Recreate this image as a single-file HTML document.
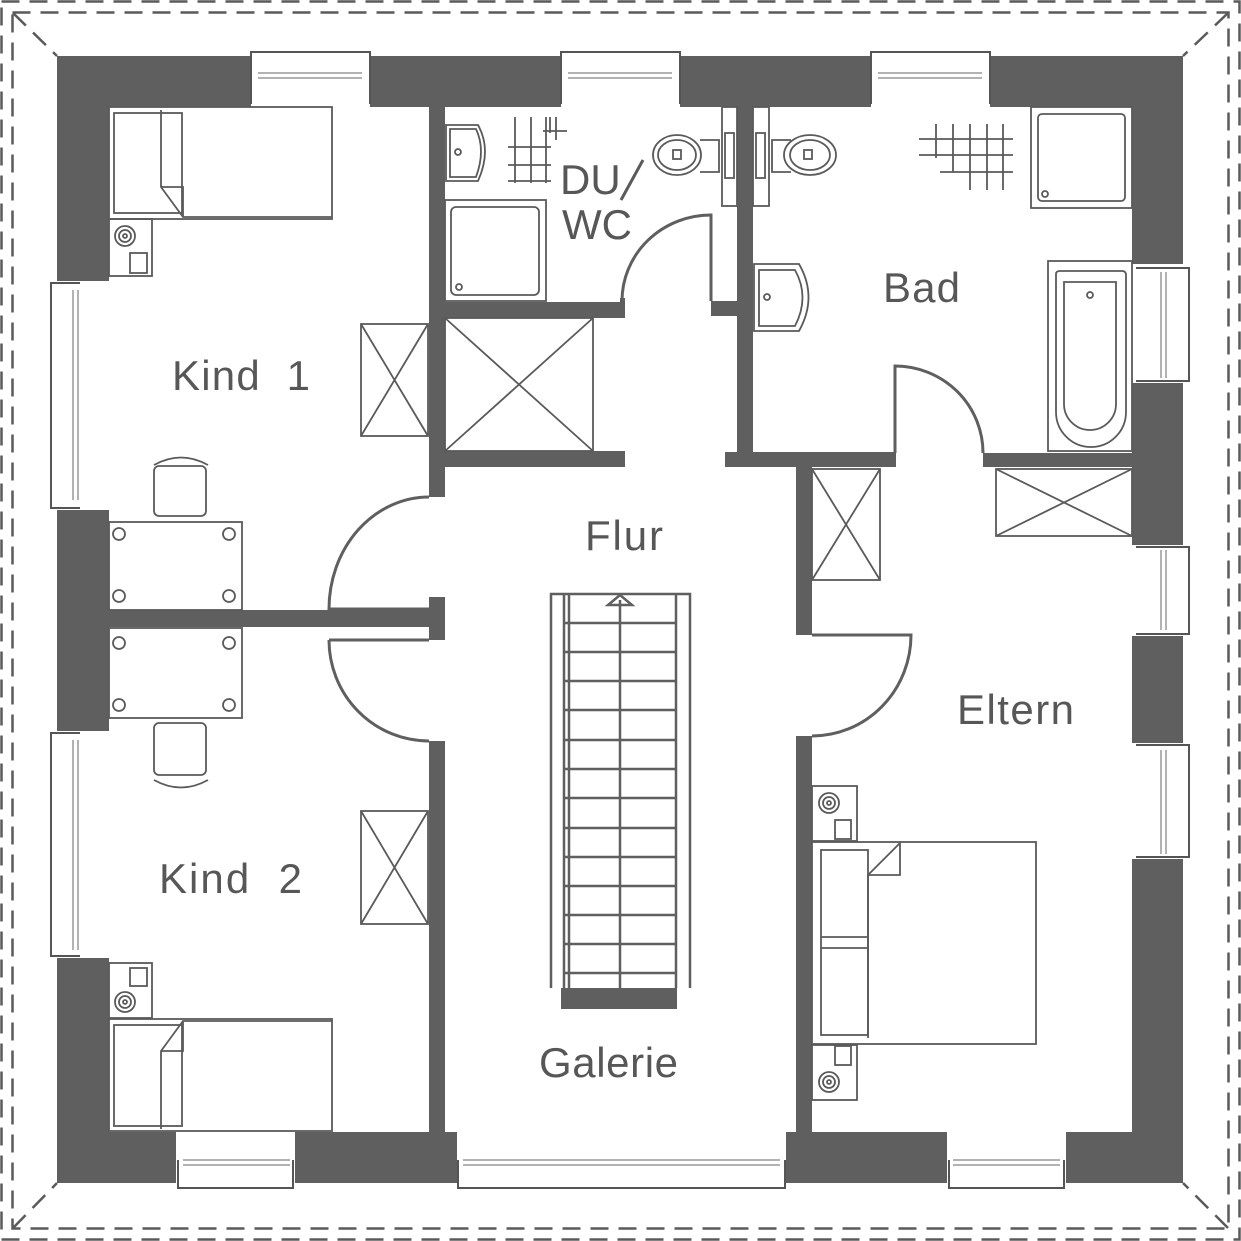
<!DOCTYPE html>
<html><head><meta charset="utf-8"><style>
html,body{margin:0;padding:0;background:#fff}
svg{display:block}
text{font-family:"Liberation Sans",sans-serif;fill:#575757;font-size:42px}
</style></head><body>
<svg width="1241" height="1241" viewBox="0 0 1241 1241" xmlns="http://www.w3.org/2000/svg">
<g fill="none" stroke="#5a5a5a" stroke-width="2.5" stroke-dasharray="18,10">
<rect x="1.5" y="1.5" width="1238" height="1238"/>
<rect x="12.5" y="12.5" width="1216" height="1216"/>
<line x1="13" y1="13" x2="57" y2="56"/>
<line x1="1228" y1="13" x2="1183" y2="56"/>
<line x1="13" y1="1228" x2="57" y2="1183"/>
<line x1="1228" y1="1228" x2="1183" y2="1183"/>
</g>
<path fill="#5f5f5f" fill-rule="evenodd" d="M57 56H1183V1183H57Z M109 107V1132H1132V107Z"/>
<g fill="#5f5f5f">
<rect x="429" y="107" width="16" height="390"/>
<rect x="109" y="610" width="320" height="17"/>
<rect x="429" y="597" width="16" height="43"/>
<rect x="429" y="741" width="16" height="391"/>
<rect x="445" y="302" width="180" height="16"/>
<rect x="620" y="298" width="5" height="20"/>
<rect x="711" y="301" width="26" height="15"/>
<rect x="737" y="107" width="16" height="360"/>
<rect x="445" y="451" width="180" height="16"/>
<rect x="725" y="452" width="171" height="15"/>
<rect x="983" y="453" width="149" height="14"/>
<rect x="796" y="467" width="16" height="168"/>
<rect x="796" y="736" width="16" height="396"/>
<rect x="445" y="1132" width="12" height="51"/>
<rect x="786" y="1132" width="26" height="51"/>
<rect x="561" y="988" width="116" height="21"/>
</g>
<g fill="#fff" stroke="#555" stroke-width="2">
<rect x="251" y="51" width="119" height="56" stroke="none"/>
<rect x="561" y="51" width="119" height="56" stroke="none"/>
<rect x="871" y="51" width="119" height="56" stroke="none"/>
<path d="M251 104V52H370V104 M561 104V52H680V104 M871 104V52H990V104"/>
<rect x="51" y="281" width="58" height="229" stroke="none"/>
<rect x="51" y="731" width="58" height="227" stroke="none"/>
<path d="M80 283H51V508H80 M80 733H51V956H80"/>
<rect x="1132" y="264" width="57" height="119" stroke="none"/>
<rect x="1132" y="545" width="57" height="91" stroke="none"/>
<rect x="1132" y="743" width="57" height="116" stroke="none"/>
<path d="M1136 268H1189V381H1136 M1136 547H1189V634H1136 M1136 745H1189V857H1136"/>
<rect x="176" y="1132" width="119" height="56" stroke="none"/>
<rect x="457" y="1132" width="329" height="56" stroke="none"/>
<rect x="947" y="1132" width="119" height="56" stroke="none"/>
<path d="M178 1160V1188H293V1160 M458 1160V1188H785V1160 M949 1160V1188H1064V1160"/>
</g>
<g stroke="#666" stroke-width="1" fill="none">
<path d="M258 73H362 M258 78H362 M568 73H672 M568 78H672 M878 73H982 M878 78H982"/>
<path d="M73 290V500 M78 290V500 M73 740V950 M78 740V950"/>
<path d="M1161 272V378 M1166 272V378 M1161 550V630 M1166 550V630 M1161 750V854 M1166 750V854"/>
<path d="M183 1160H290 M183 1165H290 M463 1160H780 M463 1165H780 M953 1160H1060 M953 1165H1060"/>
</g>
<g fill="none" stroke="#5f5f5f" stroke-width="3">
<path d="M429 497A100 112 0 0 0 329 609H429"/>
<path d="M329 640H429M329 640A100 101 0 0 0 429 741"/>
<path d="M711 301V215A89 86 0 0 0 622 301"/>
<path d="M895 453V366A88 87 0 0 1 983 453"/>
<path d="M812 635H911A99 101 0 0 1 812 736"/>
</g>
<g fill="none" stroke="#5a5a5a" stroke-width="1.8">
<rect x="109" y="107" width="223" height="112"/>
<rect x="114" y="113" width="68" height="100"/>
<path d="M161 110V187L183 217H332 M161 187H183V217"/>
<rect x="109" y="219" width="43" height="57"/>
<circle cx="125" cy="236" r="10"/><circle cx="125" cy="236" r="6"/><circle cx="125" cy="236" r="2"/>
<rect x="130" y="253" width="17" height="20"/>
<rect x="361" y="324" width="67" height="112"/><path d="M361 324L428 436M428 324L361 436"/>
<rect x="154" y="466" width="52" height="50" rx="5"/><path d="M154 465Q181 450 208 465"/>
<rect x="109" y="522" width="133" height="88"/>
<circle cx="119" cy="534" r="6"/><circle cx="229" cy="534" r="6"/><circle cx="119" cy="596" r="6"/><circle cx="229" cy="596" r="6"/>
<rect x="109" y="628" width="133" height="90"/>
<circle cx="119" cy="643" r="6"/><circle cx="229" cy="643" r="6"/><circle cx="119" cy="705" r="6"/><circle cx="229" cy="705" r="6"/>
<rect x="154" y="723" width="52" height="52" rx="5"/><path d="M154 780Q181 795 208 780"/>
<rect x="361" y="811" width="67" height="113"/><path d="M361 811L428 924M428 811L361 924"/>
<rect x="109" y="963" width="43" height="55"/>
<circle cx="125" cy="1002" r="10"/><circle cx="125" cy="1002" r="6"/><circle cx="125" cy="1002" r="2"/>
<rect x="130" y="968" width="17" height="18"/>
<rect x="109" y="1019" width="223" height="112"/>
<rect x="114" y="1025" width="68" height="101"/>
<path d="M161 1129V1051L183 1021H332 M161 1051H183V1021"/>
<path d="M446 125H478Q492 150 478 181H446Z"/><path d="M450 129H476Q486 150 476 177H450Z"/>
<circle cx="458" cy="152" r="3"/>
<path d="M508 147H551 M508 165H551 M508 181H551 M515 117V183 M531 117V183 M546 117V183 M550 117V133 M543 131H567 M556 117V140"/>
<rect x="445" y="200" width="101" height="101"/><rect x="451" y="207" width="88" height="88" rx="5"/>
<circle cx="459" cy="287" r="3"/>
<ellipse cx="677" cy="155" rx="24" ry="20"/><ellipse cx="677" cy="155" rx="19" ry="15"/><rect x="673" y="150" width="8" height="9"/>
<path d="M700 140H719V172H700"/>
<rect x="722" y="107" width="15" height="99"/><rect x="725" y="133" width="9" height="45"/>
<rect x="753" y="107" width="16" height="99"/><rect x="756" y="133" width="9" height="45"/>
<ellipse cx="810" cy="155" rx="26" ry="20"/><ellipse cx="810" cy="155" rx="20" ry="15"/><rect x="804" y="150" width="8" height="9"/>
<path d="M791 140H772V172H791"/>
<path d="M919 139H1013 M919 155H1013 M940 172H1013 M936 124V158 M953 124V172 M970 124V190 M987 124V190 M1003 124V190"/>
<rect x="1031" y="107" width="101" height="101"/><rect x="1038" y="114" width="87" height="87" rx="4"/>
<circle cx="1045" cy="194" r="3"/>
<path d="M754 264H799Q818 297 799 331H754Z"/><path d="M759 270H795Q810 297 795 326H759Z"/>
<circle cx="767" cy="297" r="3"/>
<rect x="1048" y="261" width="84" height="190"/>
<path d="M1056 274Q1056 271 1060 271H1122Q1126 271 1126 275V412A35 35 0 0 1 1056 412Z"/>
<path d="M1064 282H1116V404A26 26 0 0 1 1064 404Z"/>
<circle cx="1090" cy="295" r="3"/>
<rect x="812" y="469" width="68" height="111"/><path d="M812 469L880 580M880 469L812 580"/>
<rect x="996" y="469" width="136" height="67"/><path d="M996 469L1132 536M1132 469L996 536"/>
<rect x="445" y="318" width="148" height="133"/><path d="M445 318L593 451M593 318L445 451"/>
<rect x="812" y="786" width="45" height="55"/>
<circle cx="829" cy="803" r="10"/><circle cx="829" cy="803" r="6"/><circle cx="829" cy="803" r="2"/>
<rect x="835" y="820" width="16" height="19"/>
<rect x="812" y="842" width="224" height="202"/>
<rect x="821" y="850" width="47" height="185"/>
<path d="M821 937H868 M821 948H868"/>
<path d="M868 1038V875L900 843 M868 875H900V843"/>
<rect x="812" y="1045" width="45" height="55"/>
<circle cx="829" cy="1082" r="10"/><circle cx="829" cy="1082" r="6"/><circle cx="829" cy="1082" r="2"/>
<rect x="835" y="1046" width="16" height="19"/>
</g>
<g fill="none" stroke="#5f5f5f" stroke-width="2.5">
<path d="M551 988V594H690V988"/>
<path d="M564 594V988 M569 594V988 M676 594V988"/>
<path d="M620 600V988"/>
<path d="M608 605H632L620 595Z"/>
<path d="M564 623H676 M564 652H676 M564 681H676 M564 710H676 M564 740H676 M564 769H676 M564 798H676 M564 828H676 M564 857H676 M564 886H676 M564 915H676 M564 944H676 M564 973H676"/>
</g>
<text x="172" y="390" textLength="138">Kind&#160;&#160;1</text>
<text x="159" y="893" textLength="143">Kind&#160;&#160;2</text>
<text x="585" y="550" textLength="78">Flur</text>
<text x="539" y="1077" textLength="139">Galerie</text>
<text x="957" y="724" textLength="117">Eltern</text>
<text x="883" y="302" textLength="77">Bad</text>
<text x="560" y="194">DU</text>
<text x="562" y="239">WC</text>
<line x1="643" y1="160" x2="621" y2="200" stroke="#5a5a5a" stroke-width="3"/>
</svg>
</body></html>
